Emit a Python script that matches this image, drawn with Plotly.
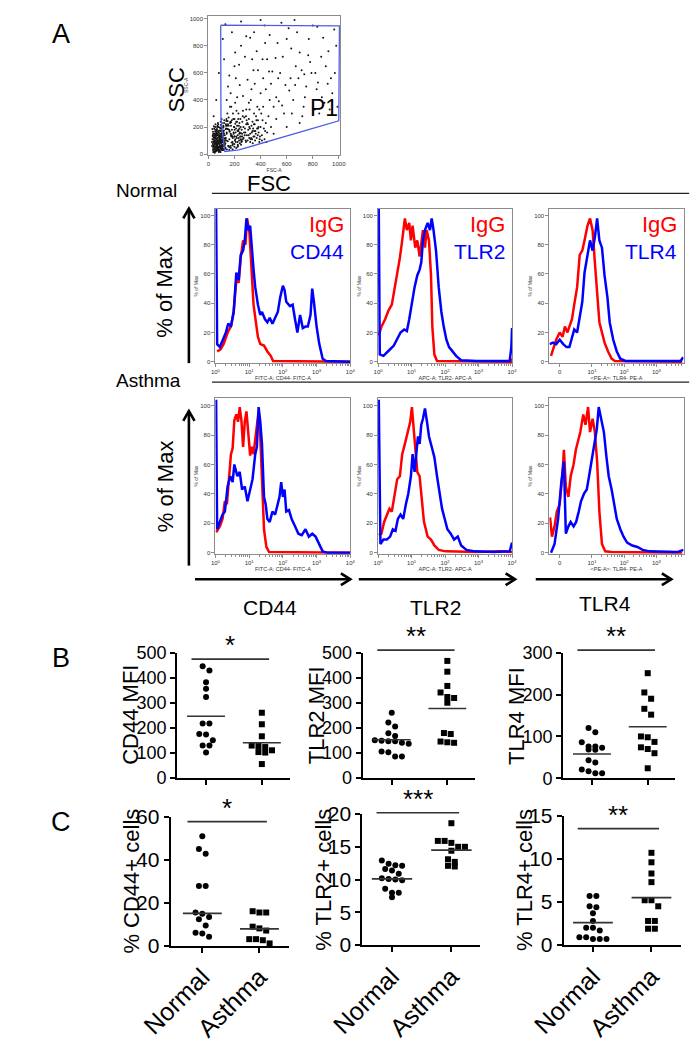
import math
import plotly.graph_objects as go

W, H = 698, 1050
FONT = "Liberation Sans, Arial, Helvetica, sans-serif"
RED = "#ff0000"
BLUE = "#0000ff"

# ---------------- data: panel A, FSC/SSC dot plot ----------------
fsc_events = [35,40,45,50,55,60,65,70,75,80,85,90,95,100,105,110,38,42,48,52,58,62,68,72,78,82,88,92,98,102,108,45,55,65,75,85,95,40,50,60,70,80,90,100,110,33,47,57,67,77,87,97,107,115,120,125,62,78,95,52,
              36,44,53,61,69,77,86,94,103,112,39,49,58,66,74,83,91,99,106,118,42,51,59,67,76,84,93,101,109,34,46,56,64,73,81,89,97,104,113,122,
              28,31,37,43,49,54,59,63,71,79,84,89,96,104,111,117,126,133,30,41,
              46,52,57,66,73,81,87,93,99,105,114,121,128,135,27,33,39,45,51,63,
              69,75,82,90,98,106,119,131,140,37,44,50,56,61,67,72,79,86,92,100,
              108,116,124,48,54,60,66,73,80,88,70,58,45,35,100,110,85,65,55,75,
              92,97,103,109,114,121,127,134,141,147,153,159,166,172,179,186,193,199,206,213,
              219,226,233,241,249,256,94,101,112,124,137,149,161,174,187,199,212,224,237,250,
              96,118,139,162,184,206,229,252,107,131,155,178,201,224,247,116,144,171,198,225,
              130,140,150,160,170,180,190,200,210,220,230,240,250,260,270,280,290,300,310,320,330,340,350,360,370,380,390,400,410,420,430,440,450,
              145,165,185,205,225,245,265,285,305,325,345,365,385,405,425,445,
              135,155,175,195,215,235,255,275,295,315,335,355,375,395,415,435,
              120,140,170,200,230,260,290,320,350,380,410,460,480,500,520,
              132,148,158,168,178,188,198,208,218,228,238,248,258,268,278,288,298,308,318,328,
              338,348,358,368,378,143,163,183,203,223,243,263,283,303,323,343,363,383,153,173,
              193,213,233,253,273,293,313,333,353,373,393,138,188,238,288,338,213,263,313,173,
              150,200,250,300,350,400,450,500,550,600,650,700,750,800,850,900,950,980,
              180,220,280,330,380,430,480,530,580,630,680,730,780,830,880,930,970,
              120,160,240,320,370,420,470,520,570,620,670,720,770,820,870,920,
              560,660,110,130,470,600,700,400,250,60,80,40,
              175,210,265,310,345,390,440,490,540,590,640,690,740,790,840,890,940,990,
              205,290,355,415,465,515,565,615,665,715,765,815,865,915,965,
              235,335,435,535,635,735,835]
ssc_events = [30,55,80,40,100,60,25,120,80,45,140,95,60,30,110,70,110,140,20,165,130,90,50,150,35,105,65,170,125,85,45,60,75,95,55,115,40,90,125,35,70,160,130,150,100,75,100,50,140,100,30,80,130,60,90,140,180,200,190,200,
              45,35,55,70,40,90,50,110,65,120,95,115,140,30,100,75,150,45,160,80,125,85,155,115,135,25,105,175,90,130,150,20,60,170,130,85,140,55,140,115,
              60,110,150,20,75,130,45,160,95,25,175,55,85,125,40,150,70,185,185,205,
              90,50,115,145,30,125,195,15,100,60,170,35,105,210,90,140,65,35,180,110,
              80,165,20,115,55,95,175,45,160,15,190,145,25,75,200,40,140,60,105,200,
              160,30,95,10,220,170,65,230,15,90,210,85,120,165,65,105,50,185,140,220,
              150,190,230,170,210,250,40,220,35,245,60,30,230,45,250,35,150,55,225,45,
              240,60,210,80,155,95,240,260,195,60,245,185,50,235,120,75,190,55,150,130,
              215,155,100,165,65,110,170,100,30,120,210,85,180,90,200,200,185,150,130,70,
              80,150,220,110,60,180,260,130,90,210,300,160,70,240,120,190,330,100,260,150,210,80,300,170,120,250,90,200,140,350,110,230,160,
              300,350,90,380,140,260,320,100,180,400,130,280,160,300,190,90,
              190,270,130,200,320,100,180,270,140,330,110,220,350,130,250,170,
              230,400,450,260,180,130,220,90,170,190,100,280,200,150,260,
              120,95,180,240,140,75,200,160,120,260,190,110,150,200,140,90,230,140,190,120,
              170,220,100,250,140,210,170,130,100,170,130,280,160,220,110,190,150,200,60,210,
              160,240,120,90,160,250,120,160,130,190,110,260,300,230,280,240,130,110,200,140,
              500,650,800,550,900,450,700,350,600,850,400,750,500,950,300,650,450,800,
              900,420,720,480,620,950,520,820,300,560,900,350,680,480,860,330,600,
              700,580,510,860,760,560,880,420,720,470,650,280,850,600,420,760,
              970,990,850,960,400,200,230,990,980,400,600,280,
              350,560,430,380,620,330,480,610,390,510,300,560,420,600,530,380,560,350,
              750,870,520,700,610,710,360,930,510,620,730,330,720,520,920,
              660,700,820,560,780,590,940]
gate_fsc = [94, 1005, 1000, 234, 125, 96, 94]
gate_ssc = [952, 947, 246, 31, 19, 260, 952]

# ---------------- data: histograms (x: log10 / display units, y: % of max) ----------------
n_cd44_igg_x = [0.05,0.15,0.24,0.31,0.38,0.46,0.54,0.62,0.69,0.75,0.82,0.89,0.94,1.01,1.06,1.13,1.20,1.26,1.33,1.44,1.54,1.64,1.71,4.0]
n_cd44_igg_y = [7,8.5,12,16,21,24,34,56,54,71,83,80,98,88,68,39,27,17,12,11,7,4,0.5,0]
n_cd44_ab_x = [0.02,0.03,0.05,0.13,0.21,0.31,0.38,0.46,0.54,0.62,0.69,0.75,0.82,0.87,0.92,0.97,1.03,1.08,1.13,1.18,1.26,1.33,1.38,1.47,1.54,1.61,1.69,1.77,1.85,1.92,2.0,2.05,2.10,2.21,2.29,2.36,2.43,2.51,2.59,2.67,2.74,2.82,2.87,2.92,3.0,3.08,3.18,3.28,4.0]
n_cd44_ab_y = [105,12,12,10,15,20,26,24,34,61,56,73,76,83,98,90,93,76,63,51,39,32,34,29,27,30,26,30,34,44,52,49,41,38,39,29,20,32,23,24,24,32,50,41,24,12,2,0.5,0]

n_tlr2_igg_x = [0.02,0.05,0.10,0.21,0.31,0.41,0.49,0.57,0.65,0.72,0.80,0.86,0.93,0.98,1.03,1.11,1.17,1.24,1.29,1.34,1.40,1.45,1.52,1.58,1.62,1.68,1.76,3.97,4.0]
n_tlr2_igg_y = [18,20,24,29,35,39,49,59,71,83,98,90,95,83,93,78,83,72,83,90,78,90,83,59,24,5,0.5,0,2]
n_tlr2_ab_x = [0.02,0.03,0.05,0.16,0.26,0.36,0.47,0.57,0.67,0.78,0.86,0.93,1.0,1.09,1.17,1.24,1.29,1.34,1.40,1.48,1.55,1.60,1.65,1.73,1.81,1.89,1.96,2.04,2.12,2.22,2.33,2.48,2.95,3.93,3.98,4.0]
n_tlr2_ab_y = [105,5,5,4,6,8.5,11,15,20,22,21,29,39,51,59,63,68,83,90,95,90,98,91,76,51,34,24,15,10,7,4,1,0.5,0.5,10,23]

n_tlr4_igg_x = [-0.27,-0.19,-0.11,0.0,0.09,0.16,0.24,0.30,0.38,0.45,0.54,0.62,0.70,0.77,0.86,0.94,1.02,1.09,1.16,1.23,1.31,1.39,1.50,1.61,1.71,3.8]
n_tlr4_igg_y = [4,10,15,20,17,24,20,24,29,39,51,73,76,83,93,98,90,68,46,27,20,13,7,2,0.5,0]
n_tlr4_ab_x = [-0.31,-0.21,-0.11,0.0,0.11,0.21,0.30,0.38,0.45,0.54,0.62,0.70,0.77,0.86,0.94,1.02,1.09,1.16,1.23,1.31,1.39,1.48,1.55,1.66,1.77,1.88,2.04,3.75,3.83]
n_tlr4_ab_y = [12,13,12,15,12,10,10,17,22,20,32,41,61,72,83,76,85,98,83,78,59,44,27,15,7,2,0.5,0.5,3]

a_cd44_igg_x = [0.02,0.05,0.13,0.21,0.28,0.34,0.41,0.46,0.51,0.56,0.62,0.67,0.72,0.77,0.82,0.87,0.92,0.97,1.03,1.08,1.13,1.18,1.23,1.28,1.33,1.38,1.44,1.51,1.59,4.0]
a_cd44_igg_y = [14,15,18,23,35,33,52,67,71,90,94,89,99,90,72,89,96,79,66,72,67,77,87,96,79,52,16,4,0.5,0]
a_cd44_ab_x = [0.02,0.03,0.05,0.13,0.21,0.28,0.36,0.44,0.51,0.56,0.65,0.72,0.79,0.87,0.95,1.03,1.10,1.18,1.23,1.28,1.33,1.38,1.44,1.49,1.54,1.61,1.69,1.77,1.85,1.90,1.95,2.0,2.05,2.10,2.18,2.26,2.36,2.46,2.56,2.67,2.77,2.87,2.97,3.08,3.18,3.33,4.0]
a_cd44_ab_y = [104,16,16,21,26,28,45,52,48,60,52,55,43,45,35,43,50,67,72,99,89,74,38,33,23,21,28,26,34,38,48,38,43,28,29,23,18,13,12,16,11,13,11,6,1,0,0]

a_tlr2_igg_x = [0.02,0.10,0.18,0.26,0.34,0.41,0.49,0.57,0.65,0.72,0.80,0.88,0.96,1.01,1.06,1.12,1.17,1.24,1.29,1.37,1.48,1.58,1.68,1.81,2.02,2.95,3.67,4.0]
a_tlr2_igg_y = [12,13,21,26,30,28,40,50,52,67,74,82,89,99,84,65,55,52,38,21,11,9,5,2,1,0.5,1,0.5]
a_tlr2_ab_x = [0.02,0.05,0.07,0.16,0.26,0.36,0.44,0.52,0.59,0.67,0.75,0.83,0.90,0.98,1.03,1.09,1.14,1.19,1.24,1.29,1.34,1.40,1.46,1.52,1.60,1.68,1.76,1.83,1.91,1.99,2.07,2.17,2.27,2.38,2.48,2.64,2.89,3.46,3.93,4.0]
a_tlr2_ab_y = [104,6,6,9,9,11,16,15,23,26,23,33,40,52,67,55,70,79,74,87,91,98,89,79,72,65,52,40,30,23,16,13,9,11,5,2,1,0.5,1,7]

a_tlr4_igg_x = [-0.30,-0.24,-0.16,-0.09,0.0,0.08,0.13,0.19,0.27,0.34,0.43,0.50,0.58,0.64,0.73,0.80,0.88,0.94,1.02,1.09,1.16,1.23,1.31,1.41,1.61,3.8]
a_tlr4_igg_y = [24,11,18,28,33,52,70,45,38,52,60,70,77,82,94,87,99,82,91,82,62,28,6,1,0.5,0]
a_tlr4_ab_x = [-0.27,-0.16,-0.05,0.05,0.13,0.19,0.27,0.34,0.43,0.51,0.59,0.66,0.75,0.84,0.91,0.99,1.07,1.15,1.21,1.29,1.37,1.45,1.52,1.61,1.69,1.77,1.88,1.98,2.09,2.25,2.41,2.57,2.79,3.64,3.84]
a_tlr4_ab_y = [0,6,23,48,62,13,18,21,18,21,28,35,40,43,52,62,74,84,99,91,82,65,52,43,33,23,16,11,7,5,4,2,1,0.5,2]

markers = ["CD44", "TLR2", "TLR4"]
hist_xtitles = ["FITC-A: CD44- FITC-A", "APC-A: TLR2- APC-A", "&lt;PE-A&gt;: TLR4- PE-A"]

# ---------------- data: panels B and C ----------------
groups = ["Normal", "Asthma"]
cd44_mfi = [[446, 429, 382, 356, 323, 217, 217, 173, 175, 150, 129, 129, 101],
            [260, 214, 166, 129, 123, 103, 101, 110, 127, 55]]
tlr2_mfi = [[260, 221, 205, 178, 167, 150, 146, 140, 136, 146, 148, 102, 105, 85, 85],
            [467, 424, 367, 341, 323, 319, 300, 179, 175, 145, 140, 142]]
tlr4_mfi = [[120, 110, 86, 76, 73, 69, 76, 68, 43, 38, 17, 12, 12, 21],
            [251, 205, 190, 166, 152, 100, 98, 87, 70, 74, 60, 24]]
cd44_pct = [[50.9, 45.0, 42.8, 27.7, 27.7, 15.4, 14.8, 13.3, 12.3, 9.4, 6.0, 5.6, 4.1],
            [16.0, 15.4, 15.4, 8.8, 8.0, 7.0, 3.0, 3.0, 2.5, 1.0]]
tlr2_pct = [[12.9, 12.4, 12.2, 12.1, 11.6, 11.4, 10.9, 10.2, 10.1, 10.0, 9.9, 8.6, 8.0, 8.0, 7.3],
            [18.6, 15.9, 15.9, 15.6, 15.0, 15.0, 14.4, 13.1, 12.7, 12.1, 12.0]]
tlr4_pct = [[5.7, 5.7, 4.5, 4.4, 3.7, 2.8, 2.0, 2.0, 1.7, 0.9, 0.7, 0.7, 0.7, 0.9],
            [10.7, 9.6, 8.3, 7.3, 5.2, 5.2, 4.5, 2.8, 2.8, 1.9, 1.9]]
center_lines = {"cd44_mfi": [246, 140], "tlr2_mfi": [152, 277], "tlr4_mfi": [58, 123],
                "cd44_pct": [15.0, 7.8], "tlr2_pct": [10.1, 14.5], "tlr4_pct": [2.6, 5.5]}
sig_labels = {"cd44_mfi": "*", "tlr2_mfi": "**", "tlr4_mfi": "**",
              "cd44_pct": "*", "tlr2_pct": "***", "tlr4_pct": "**"}
sig_levels = {"cd44_mfi": 474, "tlr2_mfi": 510, "tlr4_mfi": 306,
              "cd44_pct": 57.7, "tlr2_pct": 20.2, "tlr4_pct": 13.5}
ytitles = {"cd44_mfi": "CD44 MFI", "tlr2_mfi": "TLR2 MFI", "tlr4_mfi": "TLR4 MFI",
           "cd44_pct": "% CD44+ cells", "tlr2_pct": "% TLR2+ cells", "tlr4_pct": "% TLR4+ cells"}

# ---------------- figure scaffolding ----------------
fig = go.Figure()
layout = dict(width=W, height=H, margin=dict(l=0, r=0, t=0, b=0),
              paper_bgcolor="white", plot_bgcolor="white", showlegend=False,
              font=dict(family=FONT, color="black"))
shapes, annotations = [], []
specs = {}


def P(x, y):
    return x / W, 1 - y / H


def axes(i, xpx, ypx, xr, yr, xkw, ykw):
    specs[i] = (xpx, ypx, xr, yr)
    s = "" if i == 1 else str(i)
    layout["xaxis" + s] = dict(domain=[xpx[0] / W, xpx[1] / W], range=xr, anchor="y" + s,
                               showgrid=False, zeroline=False, fixedrange=True, **xkw)
    layout["yaxis" + s] = dict(domain=[1 - ypx[1] / H, 1 - ypx[0] / H], range=yr, anchor="x" + s,
                               showgrid=False, zeroline=False, fixedrange=True, **ykw)
    return "x" + s, "y" + s


def to_px(i, xv, yv):
    xpx, ypx, xr, yr = specs[i]
    X = xpx[0] + (xv - xr[0]) / (xr[1] - xr[0]) * (xpx[1] - xpx[0])
    Y = ypx[1] - (yv - yr[0]) / (yr[1] - yr[0]) * (ypx[1] - ypx[0])
    return X, Y


def text(x, y, s, size, color="black", angle=0, xanchor="center", yanchor="middle"):
    px_, py_ = P(x, y)
    annotations.append(dict(x=px_, y=py_, xref="paper", yref="paper", text=s, showarrow=False,
                            textangle=angle, xanchor=xanchor, yanchor=yanchor,
                            font=dict(size=size, color=color, family=FONT)))


def line_px(x0, y0, x1, y1, width=1.2, color="black"):
    a, b = P(x0, y0)
    c, d = P(x1, y1)
    shapes.append(dict(type="line", xref="paper", yref="paper", x0=a, y0=b, x1=c, y1=d,
                       line=dict(color=color, width=width)))


def arrow_px(x0, y0, x1, y1, width=2.6):
    line_px(x0, y0, x1, y1, width)
    L = math.hypot(x1 - x0, y1 - y0)
    ux, uy = (x1 - x0) / L, (y1 - y0) / L
    nx, ny = -uy, ux
    bx, by = x1 - 10 * ux, y1 - 10 * uy
    pts = [P(bx + 6 * nx, by + 6 * ny), P(x1, y1), P(bx - 6 * nx, by - 6 * ny)]
    path = "M{},{} L{},{} L{},{}".format(pts[0][0], pts[0][1], pts[1][0], pts[1][1], pts[2][0], pts[2][1])
    shapes.append(dict(type="path", xref="paper", yref="paper", path=path,
                       line=dict(color="black", width=width)))


# ---------------- Panel A: scatter ----------------
small = dict(size=6, color="#333", family=FONT)
frame = dict(showline=True, mirror=True, linecolor="#8c8c8c", linewidth=1, ticks="outside",
             ticklen=3, tickcolor="#8c8c8c", tickfont=small)
xa, ya = axes(1, (184, 324), (4, 146), [-2, 1009], [-5, 1021],
              dict(frame, dtick=200, title=dict(text="FSC-A", font=dict(size=5, color="#333"), standoff=0)),
              dict(frame, dtick=200, title=dict(text="SSC-A", font=dict(size=5, color="#333"), standoff=0)))
fig.add_trace(go.Scatter(x=fsc_events, y=ssc_events, mode="markers", xaxis=xa, yaxis=ya,
                         marker=dict(size=2.0, color="#151515"), hoverinfo="skip"))
fig.add_trace(go.Scatter(x=gate_fsc, y=gate_ssc, mode="lines", xaxis=xa, yaxis=ya,
                         line=dict(color="#4d5ee6", width=1.3), hoverinfo="skip"))
text(28, 22, "A", 27)
text(150, 80, "SSC", 22, angle=-90)
text(249, 175, "FSC", 22)
text(307, 98, "P1", 23)

# ---------------- Panel A: histograms ----------------
hist_cols = [(191.7, 335), (364.5, 506.8), (546.5, 689)]
rows = [((201.5, 359.0), [-1.0, 104.4]), ((395.0, 554.0), [-0.7, 104.9])]
hist_data = [
    [(n_cd44_igg_x, n_cd44_igg_y, n_cd44_ab_x, n_cd44_ab_y),
     (n_tlr2_igg_x, n_tlr2_igg_y, n_tlr2_ab_x, n_tlr2_ab_y),
     (n_tlr4_igg_x, n_tlr4_igg_y, n_tlr4_ab_x, n_tlr4_ab_y)],
    [(a_cd44_igg_x, a_cd44_igg_y, a_cd44_ab_x, a_cd44_ab_y),
     (a_tlr2_igg_x, a_tlr2_igg_y, a_tlr2_ab_x, a_tlr2_ab_y),
     (a_tlr4_igg_x, a_tlr4_igg_y, a_tlr4_ab_x, a_tlr4_ab_y)],
]
log_minor = [k + math.log10(m) for k in range(4) for m in range(2, 10)]
biex_minor = [k + math.log10(m) for k in range(1, 4) for m in range(2, 10)]
sup = lambda k: "10<sup>%d</sup>" % k
idx = 2
for r, (ypx, yr) in enumerate(rows):
    for c, xpx in enumerate(hist_cols):
        if c < 2:
            xr = [0, 4]
            xt = dict(tickvals=[0, 1, 2, 3, 4], ticktext=[sup(k) for k in range(5)],
                      minor=dict(tickvals=log_minor, ticks="outside", ticklen=2, tickcolor="#8c8c8c"))
        else:
            xr = [-0.32, 3.84]
            xt = dict(tickvals=[0, 1, 2, 3], ticktext=["0", sup(1), sup(2), sup(3)],
                      minor=dict(tickvals=biex_minor, ticks="outside", ticklen=2, tickcolor="#8c8c8c"))
        xa, ya = axes(idx, xpx, ypx, xr, yr,
                      dict(frame, **xt, title=dict(text=hist_xtitles[c], font=dict(size=5.5, color="#333"), standoff=1)),
                      dict(frame, tickvals=[0, 20, 40, 60, 80, 100],
                           title=dict(text="% of Max", font=dict(size=5, color="#333"), standoff=1)))
        gx, gy, bx, by = hist_data[r][c]
        fig.add_trace(go.Scatter(x=gx, y=gy, mode="lines", xaxis=xa, yaxis=ya,
                                 line=dict(color=RED, width=2.5), hoverinfo="skip"))
        fig.add_trace(go.Scatter(x=bx, y=by, mode="lines", xaxis=xa, yaxis=ya,
                                 line=dict(color=BLUE, width=2.5), hoverinfo="skip"))
        if r == 0:
            text(xpx[1] - 5, 217, "IgG", 22, RED, xanchor="right")
            text(xpx[1] - 5, 245, markers[c], 21, BLUE, xanchor="right")
        idx += 1

# row labels, separators, arrows
text(153, 183, "Normal", 19, xanchor="right")
text(157, 377, "Asthma", 19, xanchor="right")
line_px(188, 185.5, 695, 185.5, 1.3, "#222")
line_px(188, 378.5, 695, 378.5, 1.3, "#222")
text(138, 286, "% of Max", 22, angle=-90)
text(138, 485, "% of Max", 22, angle=-90)
arrow_px(163.5, 359, 163.5, 201)
arrow_px(163.5, 566, 163.5, 408)
for (x0, x1), lab, lx, ly in zip([(170, 335), (344, 510), (532, 676)], markers,
                                 [250, 425, 606], [609, 609, 605]):
    arrow_px(x0, 580, x1, 580)
    text(lx, ly, lab, 21)

# ---------------- Panels B & C ----------------
dot_specs = [
    ("cd44_mfi", cd44_mfi, 8, (151, 271), (655, 783), [-0.518, 1.506], [0, 500], 100, 18, False),
    ("tlr2_mfi", tlr2_mfi, 9, (348, 467), (655, 783), [-0.525, 1.49], [0, 500], 100, 18, False),
    ("tlr4_mfi", tlr4_mfi, 10, (561, 680), (655, 783.5), [-0.518, 1.49], [0, 300], 100, 18, False),
    ("cd44_pct", cd44_pct, 11, (144, 270), (822.7, 954.5), [-0.556, 1.52], [0, 60], 20, 21, True),
    ("tlr2_pct", tlr2_pct, 12, (347.7, 473.3), (820, 954), [-0.50, 1.49], [0, 20], 5, 21, True),
    ("tlr4_pct", tlr4_pct, 13, (561.7, 686), (821.7, 954), [-0.50, 1.50], [0, 15], 5, 21, True),
]
ytitle_x = {"cd44_mfi": 101.5, "tlr2_mfi": 298.5, "tlr4_mfi": 511.5,
            "cd44_pct": 102.5, "tlr2_pct": 306.2, "tlr4_pct": 520.2}


def swarm(vals, ppu_y, ppu_x, d=7.2):
    order = sorted(range(len(vals)), key=lambda k: -vals[k])
    rows_ = []
    for k in order:
        if rows_ and abs(vals[rows_[-1][0]] - vals[k]) * ppu_y < d * 0.92:
            rows_[-1].append(k)
        else:
            rows_.append([k])
    off = [0.0] * len(vals)
    for row in rows_:
        n = len(row)
        for j, k in enumerate(row):
            off[k] = (j - (n - 1) / 2) * d / ppu_x
    return off


axis_kw = dict(showline=True, linecolor="black", linewidth=2, ticks="outside", ticklen=5,
               tickwidth=2, tickcolor="black")
for key, vals, i, xpx, ypx, xr, yr, dt, fs, labels in dot_specs:
    xkw = dict(axis_kw, tickvals=[0, 1])
    if labels:
        xkw.update(ticktext=groups, tickangle=-45, tickfont=dict(size=25, family=FONT))
    else:
        xkw.update(showticklabels=False)
    xa, ya = axes(i, xpx, ypx, xr, yr, xkw,
                  dict(axis_kw, dtick=dt, tick0=0, tickfont=dict(size=fs, family=FONT)))
    ppu_y = (ypx[1] - ypx[0]) / (yr[1] - yr[0])
    ppu_x = (xpx[1] - xpx[0]) / (xr[1] - xr[0])
    for g, sym in enumerate(["circle", "square"]):
        off = swarm(vals[g], ppu_y, ppu_x)
        fig.add_trace(go.Scatter(x=[g + o for o in off], y=vals[g], mode="markers", xaxis=xa, yaxis=ya,
                                 marker=dict(symbol=sym, size=6, color="black"), cliponaxis=False,
                                 hoverinfo="skip"))
        cl = center_lines[key][g]
        fig.add_trace(go.Scatter(x=[g - 0.34, g + 0.34], y=[cl, cl], mode="lines", xaxis=xa, yaxis=ya,
                                 line=dict(color="#333", width=1.6), hoverinfo="skip"))
    # significance bar and stars
    ax0, ay0 = to_px(i, -0.26, sig_levels[key])
    ax1, _ = to_px(i, 1.13, sig_levels[key])
    line_px(ax0, ay0, ax1, ay0, 1.6, "#333")
    text((ax0 + ax1) / 2, ay0 - 14, sig_labels[key], 26)
    text(ytitle_x[key], (ypx[0] + ypx[1]) / 2, ytitles[key], 22, angle=-90)

text(28, 660, "B", 27)
text(28, 828, "C", 27)

layout["shapes"] = shapes
layout["annotations"] = annotations
fig.update_layout(**layout)
fig.write_html("out.html", config={"displayModeBar": False, "staticPlot": True},
               post_script="document.body.style.margin='0px';")
